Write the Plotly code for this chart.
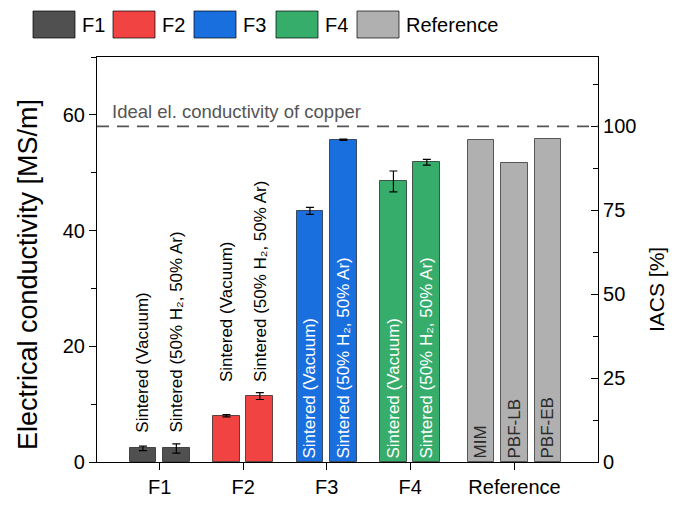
import plotly.graph_objects as go

# ---------------- data ----------------
groups = ["F1", "F2", "F3", "F4", "Reference"]
group_pos = [1, 2, 3, 4, 5.25]
colors = ["#505050", "#f24343", "#1a6fdf", "#37ad6b", "#b0b0b0"]

F1_vals = [2.35, 2.35]
F1_err = [0.4, 0.8]
F2_vals = [8.0, 11.4]
F2_err = [0.2, 0.6]
F3_vals = [43.4, 55.7]
F3_err = [0.6, 0.1]
F4_vals = [48.5, 51.8]
F4_err = [1.8, 0.5]
Ref_vals = [55.7, 51.6, 55.8]
Ref_err = [0, 0, 0]

sint_labels = ["Sintered (Vacuum)", "Sintered (50% H₂, 50% Ar)"]
ref_labels = ["MIM", "PBF-LB", "PBF-EB"]

copper_ideal = 58.0          # MS/m = 100 % IACS
y_max = 70
left_ticks = [0, 20, 40, 60]
right_ticks = [0, 25, 50, 75, 100]

FONT = "Arial, Liberation Sans, sans-serif"

all_vals = [F1_vals, F2_vals, F3_vals, F4_vals, Ref_vals]
all_errs = [F1_err, F2_err, F3_err, F4_err, Ref_err]
all_labels = [sint_labels, sint_labels, sint_labels, sint_labels, ref_labels]
label_inside = [False, False, True, True, True]
text_col = ["black", "black", "white", "white", "#2a2a2a"]

step = 0.4
bar_w = 0.32

# page body has 8px margin -> figure drawn 8px in
OFF = 8
W, H = 677 - 2 * OFF, 505 - 2 * OFF
ml, mr, mt, mb = 97 - OFF, W - (598 - OFF), 57 - OFF, H - (462 - OFF)
pw, ph = W - ml - mr, H - mt - mb


def px_x(page_x):
    return (page_x - OFF - ml) / pw


def px_y(page_y):
    return (H - mb - (page_y - OFF)) / ph


fig = go.Figure()
for g, pos, col, vals, errs, labs, inside, tc in zip(groups, group_pos, colors, all_vals,
                                                      all_errs, all_labels, label_inside, text_col):
    n = len(vals)
    xs = [pos + (i - (n - 1) / 2) * step for i in range(n)]
    fig.add_trace(go.Bar(
        x=xs, y=vals, width=bar_w, name=g,
        marker=dict(color=col, line=dict(color="rgba(0,0,0,0.6)", width=1)),
        error_y=dict(type="data", array=errs, visible=(g != "Reference"),
                     color="black", thickness=1.2, width=4),
        text=labs if inside else None,
        textposition="inside" if inside else "none",
        textangle=-90, insidetextanchor="start", constraintext="none",
        textfont=dict(family=FONT, size=17, color=tc),
        showlegend=False,
    ))
    if not inside:
        top = max(v + e for v, e in zip(vals, errs))
        for x, lab in zip(xs, labs):
            fig.add_annotation(x=x, y=top, yshift=9, text=lab, textangle=-90,
                               showarrow=False, xanchor="center", yanchor="bottom",
                               font=dict(family=FONT, size=17, color=tc))

# invisible trace to activate right axis
fig.add_trace(go.Scatter(x=[group_pos[0]], y=[0], yaxis="y2", mode="markers",
                         marker=dict(opacity=0), showlegend=False, hoverinfo="skip"))

# ideal copper line
fig.add_shape(type="line", xref="paper", x0=0, x1=1, yref="y", y0=copper_ideal, y1=copper_ideal,
              line=dict(color="#555555", width=1.8, dash="12px,8px"))
fig.add_annotation(xref="paper", x=px_x(110), yref="y", y=copper_ideal, yshift=15,
                   text="Ideal el. conductivity of copper", showarrow=False,
                   xanchor="left", font=dict(family=FONT, size=18.5, color="#555555"))

# axis titles
fig.add_annotation(xref="paper", yref="paper", x=px_x(28), y=px_y(275),
                   text="Electrical conductivity [MS/m]", textangle=-90, showarrow=False,
                   xanchor="center", yanchor="middle", font=dict(family=FONT, size=27, color="black"))
fig.add_annotation(xref="paper", yref="paper", x=px_x(656), y=px_y(290),
                   text="IACS [%]", textangle=-90, showarrow=False,
                   xanchor="center", yanchor="middle", font=dict(family=FONT, size=21, color="black"))

# custom legend (large boxes) at top
leg_x = [33, 113, 194, 276, 357]   # page-pixel left edges of legend boxes
for g, col, lx in zip(groups, colors, leg_x):
    fig.add_shape(type="rect", xref="paper", yref="paper",
                  x0=px_x(lx), x1=px_x(lx + 42), y0=px_y(38), y1=px_y(11),
                  fillcolor=col, line=dict(color="rgba(0,0,0,0.7)", width=1))
    fig.add_annotation(xref="paper", yref="paper", x=px_x(lx + 47), y=px_y(24.5),
                       text=g, showarrow=False, xanchor="left", yanchor="middle",
                       font=dict(family=FONT, size=20, color="black"))

fig.update_layout(
    width=W, height=H,
    margin=dict(l=ml, r=mr, t=mt, b=mb, autoexpand=False),
    plot_bgcolor="white", paper_bgcolor="white",
    bargap=0,
    font=dict(family=FONT, color="black"),
    xaxis=dict(range=[0.25, 6.25], tickvals=group_pos, ticktext=groups,
               ticks="outside", ticklen=7, tickwidth=1.2, tickcolor="black",
               showline=True, linecolor="black", linewidth=1.2, mirror=True,
               showgrid=False, zeroline=False,
               tickfont=dict(family=FONT, size=20)),
    yaxis=dict(range=[0, y_max], tickvals=left_ticks,
               ticks="outside", ticklen=7, tickwidth=1.2, tickcolor="black",
               minor=dict(dtick=10, ticks="outside", ticklen=5, tickcolor="black", tickwidth=1.2),
               showline=True, linecolor="black", linewidth=1.2,
               showgrid=False, zeroline=False,
               tickfont=dict(family=FONT, size=20)),
    yaxis2=dict(range=[0, y_max / copper_ideal * 100], tickvals=right_ticks,
                overlaying="y", side="right",
                ticks="inside", ticklen=7, tickwidth=1.2, tickcolor="black",
                minor=dict(dtick=12.5, ticks="inside", ticklen=5, tickcolor="black", tickwidth=1.2),
                showline=True, linecolor="black", linewidth=1.2,
                showgrid=False, zeroline=False,
                tickfont=dict(family=FONT, size=20)),
)

fig.write_html("out.html")
